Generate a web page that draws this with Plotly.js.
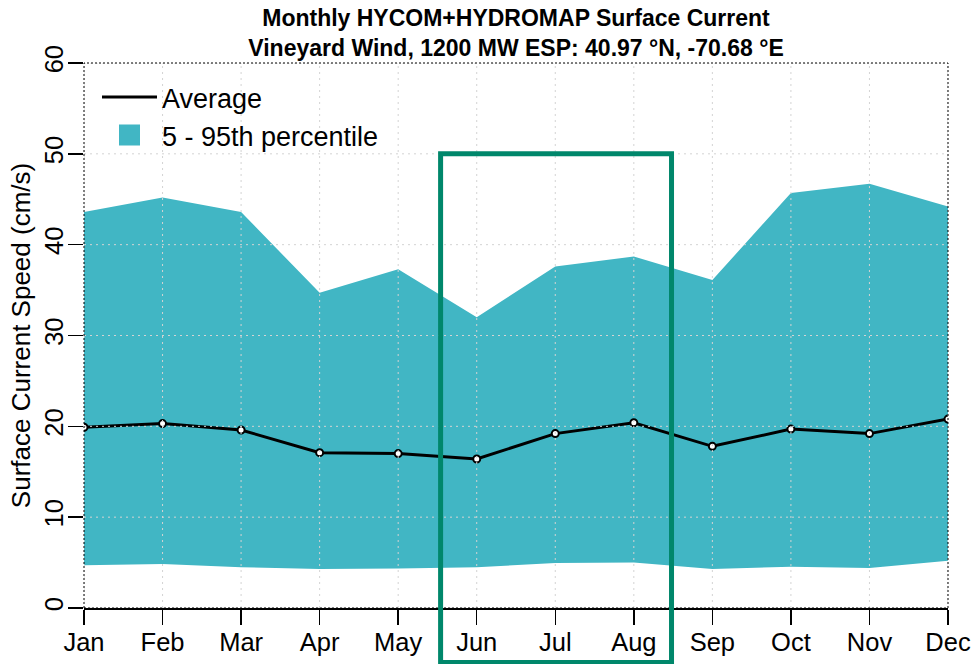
<!DOCTYPE html>
<html>
<head>
<meta charset="utf-8">
<script src="https://cdn.plot.ly/plotly-3.0.1.min.js"></script>
<style>html,body{margin:0;padding:0;background:#fff;}#chart{width:977px;height:664px;}</style>
</head>
<body>
<div id="chart"></div>
<script>
const months = ['Jan','Feb','Mar','Apr','May','Jun','Jul','Aug','Sep','Oct','Nov','Dec'];
const avgSpeed = [19.9, 20.3, 19.6, 17.1, 17.0, 16.4, 19.2, 20.4, 17.8, 19.7, 19.2, 20.8];
const p95Speed = [43.6, 45.2, 43.6, 34.7, 37.3, 32.0, 37.6, 38.7, 36.1, 45.7, 46.7, 44.2];
const p5Speed  = [4.7, 4.85, 4.5, 4.3, 4.35, 4.5, 4.95, 5.0, 4.3, 4.55, 4.4, 5.2];
const yTicks = [0, 10, 20, 30, 40, 50, 60];

const FONT = 'Liberation Sans, Arial, Helvetica, sans-serif';
const TEAL = '#41B6C4';
const GREEN = '#00876B';

const traces = [
  {x: months, y: p5Speed, type: 'scatter', mode: 'lines', line: {width: 0, color: TEAL},
   showlegend: false, hoverinfo: 'skip'},
  {x: months, y: p95Speed, type: 'scatter', mode: 'lines', line: {width: 0, color: TEAL},
   fill: 'tonexty', fillcolor: TEAL, showlegend: false, hoverinfo: 'skip'},
  {x: months, y: avgSpeed, type: 'scatter', mode: 'lines', name: 'Average', legendgroup: 'avg',
   line: {color: '#000', width: 3}},
  {x: months, y: avgSpeed, type: 'scatter', mode: 'markers', name: 'Average', legendgroup: 'avg',
   showlegend: false,
   marker: {symbol: 'circle', size: 7, color: '#fff', line: {color: '#000', width: 2}}},
  {x: [null], y: [null], type: 'scatter', mode: 'markers', name: '5 - 95th percentile',
   marker: {symbol: 'square', size: 16, color: TEAL, line: {color: TEAL, width: 5}}}
];

const shapes = [];
// gridlines drawn above the band, as in the reference
months.forEach((m, i) => {
  shapes.push({type: 'line', layer: 'above', xref: 'x', yref: 'paper', x0: i, x1: i, y0: 0, y1: 1,
               line: {color: '#D3D3D3', width: 1, dash: '2px,4px'}});
});
yTicks.forEach(v => {
  shapes.push({type: 'line', layer: 'above', xref: 'paper', yref: 'y', x0: 0, x1: 1, y0: v, y1: v,
               line: {color: '#D3D3D3', width: 1, dash: '2px,4px'}});
});
// dotted plot box
shapes.push({type: 'rect', layer: 'above', xref: 'paper', yref: 'paper', x0: 0, x1: 1, y0: 0, y1: 1,
             line: {color: '#000', width: 1, dash: '2px,2px'}});
// green highlight box (summer months)
shapes.push({type: 'rect', layer: 'above', xref: 'x', yref: 'paper', x0: 4.54, x1: 7.48, y0: -0.1, y1: 50/60,
             line: {color: GREEN, width: 5}, fillcolor: 'rgba(0,0,0,0)'});

const layout = {
  width: 977, height: 664,
  margin: {l: 84, r: 29, t: 63, b: 56},
  paper_bgcolor: '#fff', plot_bgcolor: '#fff',
  font: {family: FONT, color: '#000'},
  title: {
    text: '<b>Monthly HYCOM+HYDROMAP Surface Current<br>Vineyard Wind, 1200 MW ESP: 40.97 °N, -70.68 °E</b>',
    font: {family: FONT, size: 23, color: '#000'},
    x: 0.5, xref: 'paper', xanchor: 'center',
    y: 1 - 26/664, yref: 'container', yanchor: 'top', pad: {t: 0, b: 0}
  },
  xaxis: {
    type: 'category', range: [0, 11], showgrid: false, zeroline: false,
    showline: true, linecolor: '#000', linewidth: 1.5,
    ticks: 'outside', ticklen: 15, tickwidth: 1.5, tickcolor: '#000', ticklabelstandoff: -4,
    tickfont: {family: FONT, size: 25.5, color: '#000'}, fixedrange: true
  },
  yaxis: {
    range: [0, 60], tickvals: yTicks, ticktext: yTicks.map(String),
    showgrid: false, zeroline: false, showline: false,
    ticks: 'outside', ticklen: 15, tickwidth: 1.5, tickcolor: '#000', tickangle: -90,
    ticklabelstandoff: -5,
    tickfont: {family: FONT, size: 25.5, color: '#000'},
    title: {text: 'Surface Current Speed (cm/s)', font: {family: FONT, size: 26, color: '#000'}, standoff: 1},
    fixedrange: true
  },
  legend: {
    x: (97 - 84) / 864, y: 0.9817, xanchor: 'left', yanchor: 'top', traceorder: 'normal',
    bgcolor: 'rgba(0,0,0,0)', borderwidth: 0, itemwidth: 55,
    font: {family: FONT, size: 27, color: '#000'}, tracegroupgap: 0
  },
  shapes: shapes,
  hovermode: false
};

Plotly.newPlot('chart', traces, layout, {displayModeBar: false, staticPlot: true});
</script>
</body>
</html>
